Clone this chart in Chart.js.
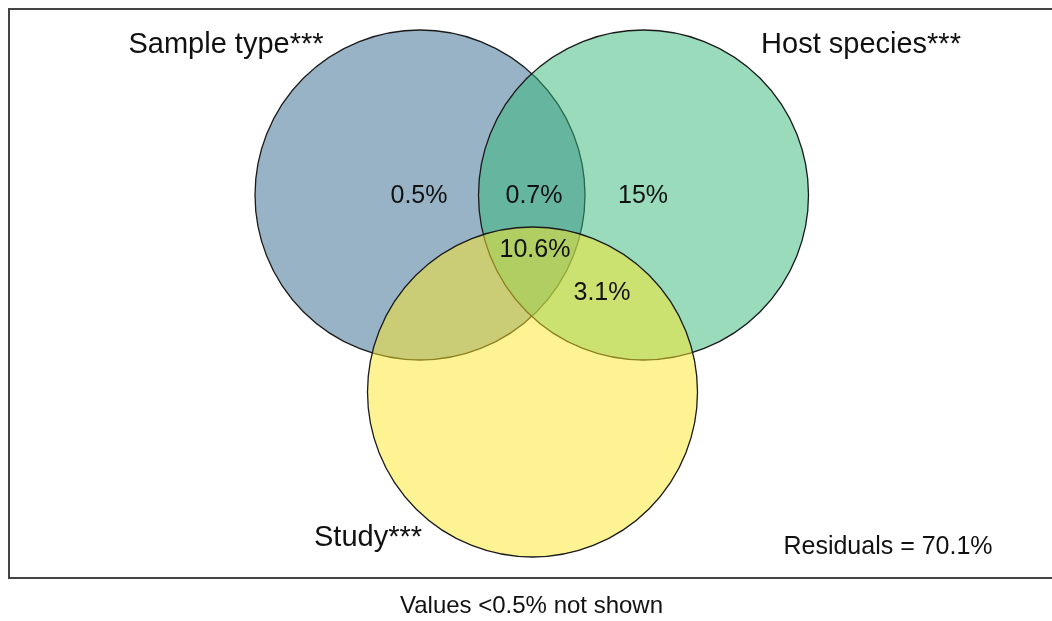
<!DOCTYPE html>
<html>
<head>
<meta charset="utf-8">
<script src="https://cdn.jsdelivr.net/npm/chart.js@4.4.1/dist/chart.umd.min.js"></script>
<style>
  html, body { margin:0; padding:0; background:#fff; }
  #wrap { width:1052px; height:621px; }
</style>
</head>
<body>
<div id="wrap"><canvas id="venn" width="1052" height="621"></canvas></div>
<script>
// ================= DATA =================
// circles (euler diagram), units of the plot panel
const setNames   = ["Sample type***", "Host species***", "Study***"];
const circleX    = [411, 634.5, 523.5];
const circleY    = [186, 186, 383];
const circleR    = [165, 165, 165];
const circleFill = ["rgba(49,104,142,0.5)", "rgba(53,183,121,0.5)", "rgba(253,231,37,0.5)"];

// set name positions
const nameX = [217, 852, 359];
const nameY = [36, 36, 529];

// region values
const regionLabels = ["0.5%", "0.7%", "15%", "10.6%", "3.1%"];
const regionX      = [410, 525, 634, 526, 593];
const regionY      = [187, 187, 187, 241, 284];

const residualText = "Residuals = 70.1%";
const residualPos  = [879, 538];
const caption      = "Values <0.5% not shown";

const FONT = "'Liberation Sans', Arial, sans-serif";

// ================= PLUGIN: frame + texts =================
const vennText = {
    id: "vennText",
    beforeDatasetsDraw(chart){
        const {ctx, chartArea:a} = chart;
        ctx.save();
        ctx.strokeStyle = "#444";
        ctx.lineWidth = 2;
        ctx.beginPath();
        ctx.moveTo(a.right + 5, a.top);
        ctx.lineTo(a.left, a.top);
        ctx.lineTo(a.left, a.bottom);
        ctx.lineTo(a.right + 5, a.bottom);
        ctx.stroke();
        ctx.restore();
    },
    afterDatasetsDraw(chart){
        const {ctx, scales:{x, y}, chartArea:a} = chart;
        ctx.save();
        ctx.fillStyle = "#111";
        ctx.textAlign = "center";
        ctx.textBaseline = "middle";

        ctx.font = "29px " + FONT;
        setNames.forEach((n,i)=>{
            ctx.fillText(n, x.getPixelForValue(nameX[i]), y.getPixelForValue(nameY[i]));
        });

        ctx.font = "25px " + FONT;
        regionLabels.forEach((t,i)=>{
            ctx.fillText(t, x.getPixelForValue(regionX[i]), y.getPixelForValue(regionY[i]));
        });

        ctx.fillText(residualText, x.getPixelForValue(residualPos[0]), y.getPixelForValue(residualPos[1]));

        ctx.font = "24px " + FONT;
        ctx.fillText(caption, (a.left + a.right) / 2 + 1, a.bottom + 28);
        ctx.restore();
    }
};

// ================= CHART =================
function pxRadius(c){
    const s = c.chart.scales.x;
    if(!s) return 0;
    return s.getPixelForValue(circleR[c.dataIndex]) - s.getPixelForValue(0);
}

new Chart(document.getElementById("venn"), {
    type: "scatter",
    data: {
        datasets: [{
            data: circleX.map((cx,i)=>({x:cx, y:circleY[i]})),
            backgroundColor: circleFill,
            borderColor: "#1a1a1a",
            borderWidth: 1.3,
            pointRadius: pxRadius,
            pointHoverRadius: pxRadius
        }]
    },
    options: {
        responsive: false,
        animation: false,
        events: [],
        layout: { padding: { left: 9, top: 9, right: 0, bottom: 43 } },
        plugins: { legend: {display:false}, tooltip: {enabled:false} },
        scales: {
            x: { type:"linear", display:false, min:0, max:1043 },
            y: { type:"linear", display:false, min:0, max:569, reverse:true }
        }
    },
    plugins: [vennText]
});
</script>
</body>
</html>
